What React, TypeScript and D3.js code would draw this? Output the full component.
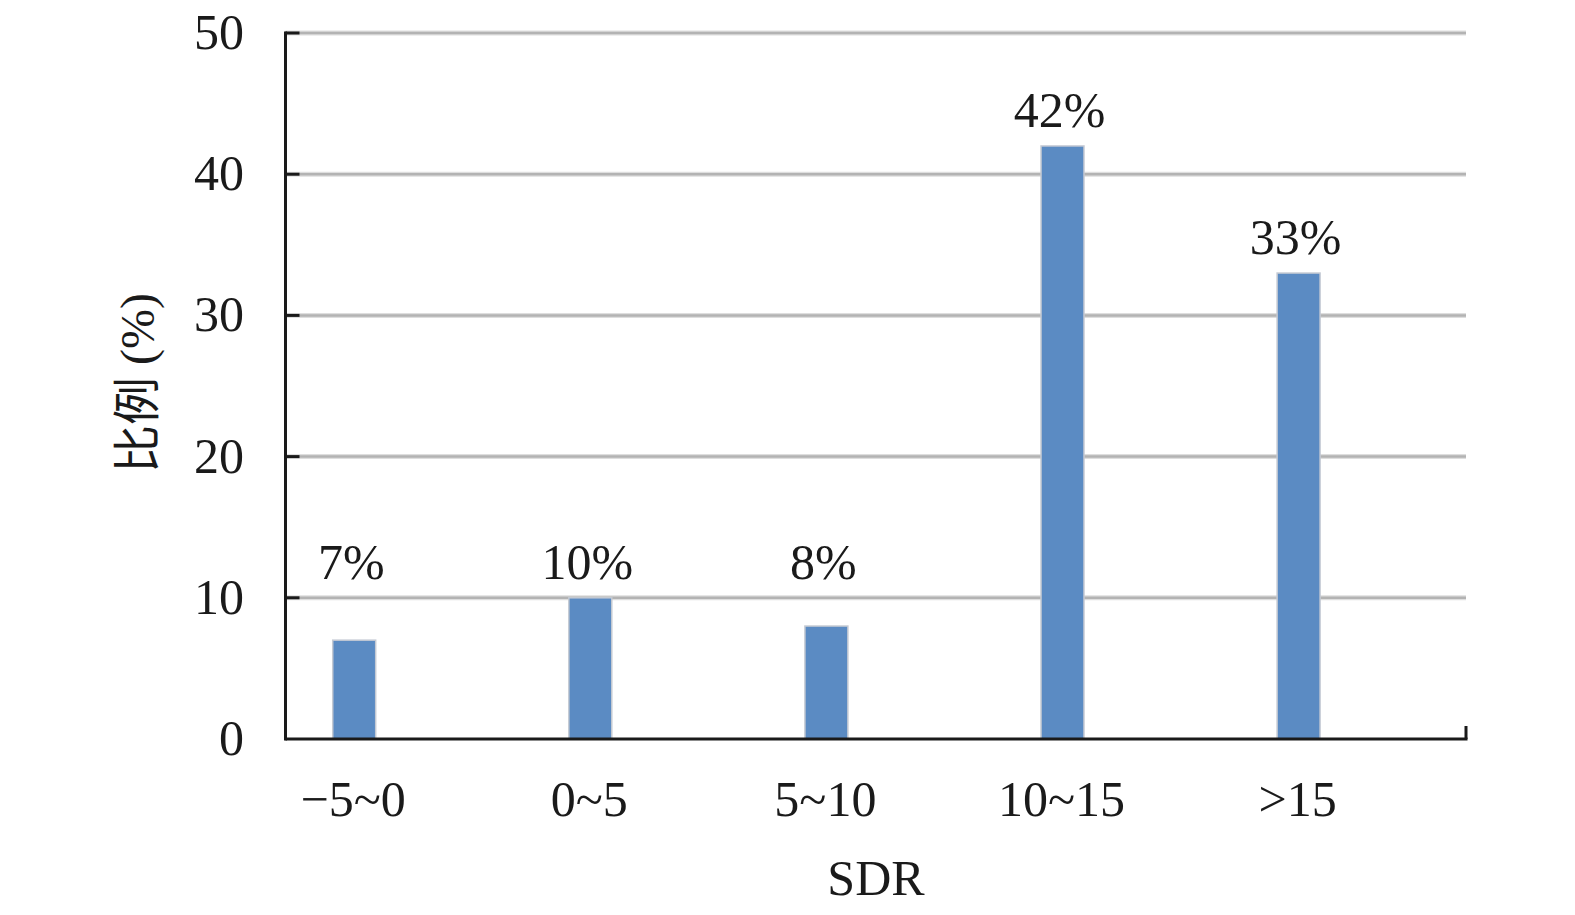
import React from "react";
import * as d3 from "d3";

const categories = ["\u22125~0", "0~5", "5~10", "10~15", ">15"];
const values = [7, 10, 8, 42, 33];
const valueLabels = ["7%", "10%", "8%", "42%", "33%"];
const yTicks = [0, 10, 20, 30, 40, 50];

const W = 1575;
const H = 915;
const FONT = "'Liberation Serif', 'Times New Roman', 'Noto Sans CJK SC', serif";

export default function App() {
  const left = 285.5;
  const right = 1466;
  const top = 33;
  const bottom = 739;
  const y = d3.scaleLinear().domain([0, 50]).range([bottom, top]);
  const x = d3.scaleBand<string>().domain(categories).range([left, right]).paddingInner(0).paddingOuter(0);
  const step = x.step();
  const barOffset = step * 0.2;
  const barW = step * 0.182;
  const cxOf = (c: string) => (x(c) as number) + barOffset + barW / 2;

  return (
    <svg width={W} height={H} viewBox={`0 0 ${W} ${H}`}
      style={{ position: "fixed", left: 0, top: 0, background: "#fff", display: "block" }} fontFamily={FONT}>
      {/* gridlines */}
      {yTicks.filter((t) => t > 0).map((t) => (
        <g key={"g" + t}>
          <line x1={left} x2={right} y1={y(t)} y2={y(t)} stroke="#dedede" strokeWidth={5} />
          <line x1={left} x2={right} y1={y(t)} y2={y(t)} stroke="#b3b3b3" strokeWidth={2.5} />
        </g>
      ))}
      {/* bars */}
      {categories.map((c, i) => {
        const bx = (x(c) as number) + barOffset;
        return (
          <rect key={c} x={bx} y={y(values[i])} width={barW} height={bottom - y(values[i])}
            fill="#5b8bc3" stroke="#c5cad3" strokeWidth={1.5} />
        );
      })}
      {/* value labels */}
      {categories.map((c, i) => {
        const ly = Math.min(y(values[i]), y(10)) - 19;
        return (
          <text key={"l" + c} x={cxOf(c) - 3} y={ly} textAnchor="middle" fontSize={50} fill="#1a1a1a">{valueLabels[i]}</text>
        );
      })}
      {/* axes */}
      <line x1={left} x2={left} y1={top - 1.5} y2={bottom + 1.5} stroke="#1a1a1a" strokeWidth={3} />
      <line x1={left} x2={right + 1.5} y1={bottom} y2={bottom} stroke="#1a1a1a" strokeWidth={3} />
      <line x1={right} x2={right} y1={bottom} y2={bottom - 13} stroke="#1a1a1a" strokeWidth={3} />
      {yTicks.map((t) => (
        <g key={"t" + t}>
          {t > 0 && <line x1={left} x2={left + 14} y1={y(t)} y2={y(t)} stroke="#1a1a1a" strokeWidth={3} />}
          <text x={244} y={y(t)} dy="0.32em" textAnchor="end" fontSize={50} fill="#1a1a1a">{t}</text>
        </g>
      ))}
      {categories.map((c) => (
        <text key={"c" + c} x={cxOf(c) - 1} y={816} textAnchor="middle" fontSize={50} fill="#1a1a1a">{c}</text>
      ))}
      <text x={876} y={895} textAnchor="middle" fontSize={50} fill="#1a1a1a">SDR</text>
      <text transform={`translate(137,383) rotate(-90)`} textAnchor="middle" dy="0.35em" fontSize={48} fill="#1a1a1a">比例 (%)</text>
    </svg>
  );
}
